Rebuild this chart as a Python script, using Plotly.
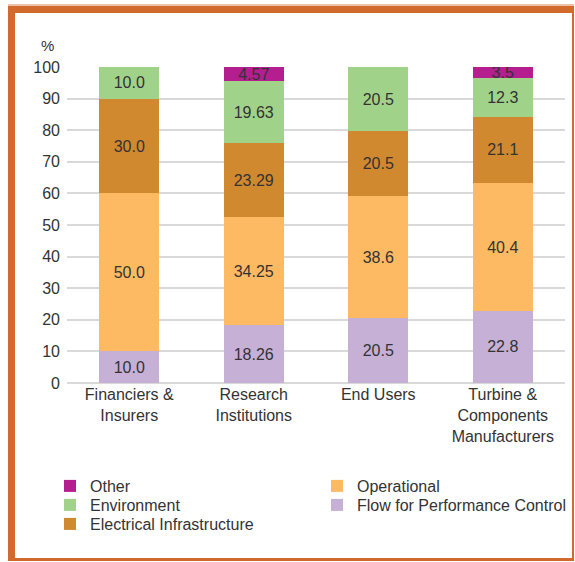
import plotly.graph_objects as go

categories = ["Financiers &<br>Insurers", "Research<br>Institutions", "End Users",
              "Turbine &<br>Components<br>Manufacturers"]
flow = [10.0, 18.26, 20.5, 22.8]
operational = [50.0, 34.25, 38.6, 40.4]
electrical = [30.0, 23.29, 20.5, 21.1]
environment = [10.0, 19.63, 20.5, 12.3]
other = [None, 4.57, None, 3.5]

flow_txt = ["10.0", "18.26", "20.5", "22.8"]
operational_txt = ["50.0", "34.25", "38.6", "40.4"]
electrical_txt = ["30.0", "23.29", "20.5", "21.1"]
environment_txt = ["10.0", "19.63", "20.5", "12.3"]
other_txt = ["", "4.57", "", "3.5"]

y_ticks = [0, 10, 20, 30, 40, 50, 60, 70, 80, 90, 100]

FONT = "Liberation Sans"
TXT = "#333333"
FS = 16

W, H = 575, 562
L, T = 67, 67
R = W - 565
B = H - 383
pw, ph = W - L - R, H - T - B

def px(x):
    return (x - L) / pw

def py(y):
    return (H - B - y) / ph

# name, values, labels, colour, legend id, legend position (px: left, row centre)
series = [
    ("Flow for Performance Control", flow, flow_txt, "#C6B0D5", "legend5", (317, 505)),
    ("Operational", operational, operational_txt, "#FDBA63", "legend4", (317, 486)),
    ("Electrical Infrastructure", electrical, electrical_txt, "#D0892E", "legend3", (50, 524)),
    ("Environment", environment, environment_txt, "#A1D28A", "legend2", (50, 505)),
    ("Other", other, other_txt, "#B41E8E", "legend", (50, 486)),
]

fig = go.Figure()
legends = {}
for name, vals, txt, col, leg, (lx, ly) in series:
    fig.add_trace(go.Bar(
        x=categories, y=vals, name=name, marker=dict(color=col, line=dict(width=0)),
        text=txt, textposition="inside", insidetextanchor="middle",
        constraintext="none", textangle=0,
        textfont=dict(family=FONT, size=FS, color=TXT),
        legend=leg, width=0.48,
    ))
    legends[leg] = dict(orientation="v", x=px(lx), y=py(ly), xanchor="left", yanchor="middle",
                        font=dict(size=FS, color=TXT), itemwidth=30,
                        bgcolor="rgba(0,0,0,0)", borderwidth=0)

frame = "#D2692D"
shapes = [dict(type="rect", xref="paper", yref="paper",
               x0=px(8), x1=px(574), y0=py(6), y1=py(4),
               fillcolor="#EBC3A8", line=dict(width=0), layer="above")]
for x0, y0, x1, y1 in [(8, 6, 15, 561), (8, 6, 574, 13), (572, 6, 574, 561), (8, 558, 574, 561)]:
    shapes.append(dict(type="rect", xref="paper", yref="paper",
                       x0=px(x0), x1=px(x1), y0=py(y1), y1=py(y0),
                       fillcolor=frame, line=dict(width=0), layer="above"))

fig.update_layout(
    width=W, height=H,
    margin=dict(l=L, r=R, t=T, b=B, autoexpand=False),
    barmode="stack",
    plot_bgcolor="white", paper_bgcolor="white",
    font=dict(family=FONT, size=FS, color=TXT),
    xaxis=dict(showgrid=False, ticks="", tickfont=dict(size=FS, color=TXT), showline=False),
    yaxis=dict(range=[0, 100], tickvals=y_ticks, showgrid=True, gridcolor="#D9D9D9", gridwidth=1.5,
               zeroline=True, zerolinecolor="#D9D9D9", zerolinewidth=1.5,
               tickfont=dict(size=FS, color=TXT), ticks="", ticklabelstandoff=6),
    showlegend=True,
    shapes=shapes,
    annotations=[dict(text="%", xref="paper", yref="paper", x=px(47), y=py(45),
                      xanchor="center", yanchor="middle", showarrow=False,
                      font=dict(size=15, color=TXT))],
    **legends,
)

fig.write_html("out.html", config={"displayModeBar": False},
               post_script="document.body.style.margin='0px';document.body.style.overflow='hidden';")
